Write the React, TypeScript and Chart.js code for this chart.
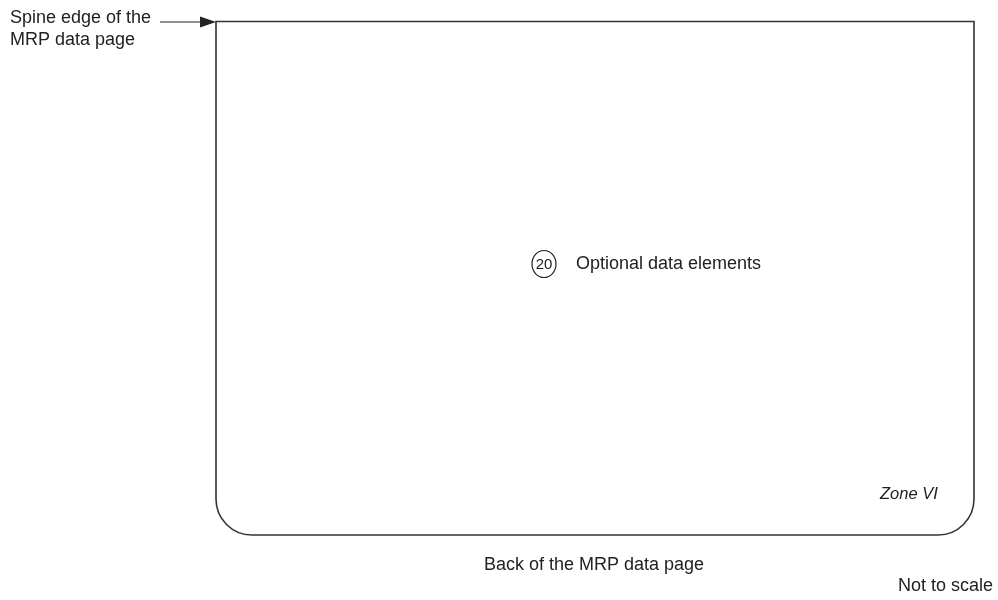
import React, { useEffect, useRef } from "react";
import { Chart, registerables } from "chart.js";

Chart.register(...registerables);

// ---- diagram content ----
const spineLabel = ["Spine edge of the", "MRP data page"];
const calloutNumber = ["20"];
const calloutText = ["Optional data elements"];
const zoneLabel = ["Zone VI"];
const bottomLabel = ["Back of the MRP data page"];
const noteLabel = ["Not to scale"];

// ---- diagram geometry in axis units (x: 0..998, y: 0..600 top-down) ----
const pageX = [216, 974]; // left, right edge of page
const pageY = [21.5, 535]; // top, bottom edge of page
const pageCorner = [36]; // bottom corner radius
const arrowX = [160, 216]; // tail, tip
const arrowY = [22];
const calloutXY = [544, 264];
const calloutR = [12, 13.5];

const TEXT_COLOR = "#222222";
const LINE_COLOR = "#333333";
const FONT = '"Liberation Sans", Arial, sans-serif';

const diagramPlugin = {
  id: "mrpDiagram",
  afterDatasetsDraw(chart: any) {
    const { ctx, scales } = chart;
    const xs = scales.x;
    const ys = scales.y;
    const px = (v: number) => xs.getPixelForValue(v);
    const py = (v: number) => ys.getPixelForValue(v);
    const unit = px(1) - px(0);

    ctx.save();
    // page outline
    const l = px(pageX[0]);
    const r = px(pageX[1]);
    const t = py(pageY[0]);
    const b = py(pageY[1]);
    const rad = pageCorner[0] * unit;
    ctx.strokeStyle = LINE_COLOR;
    ctx.lineWidth = 1.6;
    ctx.beginPath();
    ctx.moveTo(l, b - rad);
    ctx.lineTo(l, t);
    ctx.lineTo(r, t);
    ctx.lineTo(r, b - rad);
    ctx.arcTo(r, b, r - rad, b, rad);
    ctx.lineTo(l + rad, b);
    ctx.arcTo(l, b, l, b - rad, rad);
    ctx.stroke();

    // arrow
    const ay = py(arrowY[0]);
    const tail = px(arrowX[0]);
    const tip = px(arrowX[1]);
    const headLen = 16 * unit;
    const headHalf = 5.5 * unit;
    ctx.lineWidth = 1.2;
    ctx.strokeStyle = "#222222";
    ctx.beginPath();
    ctx.moveTo(tail, ay);
    ctx.lineTo(tip - headLen, ay);
    ctx.stroke();
    ctx.fillStyle = "#222222";
    ctx.beginPath();
    ctx.moveTo(tip, ay);
    ctx.lineTo(tip - headLen, ay - headHalf);
    ctx.lineTo(tip - headLen, ay + headHalf);
    ctx.closePath();
    ctx.fill();

    // callout ellipse
    const cx = px(calloutXY[0]);
    const cy = py(calloutXY[1]);
    ctx.lineWidth = 1.2;
    ctx.strokeStyle = "#222222";
    ctx.beginPath();
    ctx.ellipse(cx, cy, calloutR[0] * unit, calloutR[1] * unit, 0, 0, Math.PI * 2);
    ctx.stroke();

    ctx.fillStyle = TEXT_COLOR;
    ctx.font = `15px ${FONT}`;
    ctx.textAlign = "center";
    ctx.textBaseline = "middle";
    ctx.fillText(calloutNumber[0], cx, cy + 0.5);

    // labels
    ctx.font = `18px ${FONT}`;
    ctx.textAlign = "left";
    ctx.textBaseline = "alphabetic";
    ctx.fillText(spineLabel[0], px(10), py(23));
    ctx.fillText(spineLabel[1], px(10), py(45));
    ctx.textBaseline = "middle";
    ctx.fillText(calloutText[0], px(576), py(264));
    ctx.textBaseline = "alphabetic";
    ctx.fillText(bottomLabel[0], px(484), py(570));
    ctx.fillText(noteLabel[0], px(898), py(591));
    ctx.font = `italic 16.5px ${FONT}`;
    ctx.fillText(zoneLabel[0], px(880), py(499));
    ctx.restore();
  },
};

export default function App() {
  const canvasRef = useRef<HTMLCanvasElement | null>(null);

  useEffect(() => {
    document.body.style.margin = "0";
    const canvas = canvasRef.current;
    if (!canvas) return;
    const chart = new Chart(canvas, {
      type: "scatter",
      data: {
        datasets: [
          {
            data: [
              { x: pageX[0], y: pageY[0] },
              { x: pageX[1], y: pageY[0] },
            ],
            pointRadius: 0,
            showLine: false,
          },
        ],
      },
      options: {
        animation: false,
        responsive: false,
        maintainAspectRatio: false,
        layout: { padding: 0 },
        plugins: {
          legend: { display: false },
          tooltip: { enabled: false },
          title: { display: false },
        },
        scales: {
          x: { type: "linear", min: 0, max: 998, display: false },
          y: { type: "linear", min: 0, max: 600, reverse: true, display: false },
        },
      },
      plugins: [diagramPlugin],
    });
    return () => chart.destroy();
  }, []);

  return (
    <div style={{ position: "absolute", left: 0, top: 0, width: 998, height: 600, background: "#ffffff" }}>
      <canvas ref={canvasRef} width={998} height={600} style={{ width: 998, height: 600 }} />
    </div>
  );
}
